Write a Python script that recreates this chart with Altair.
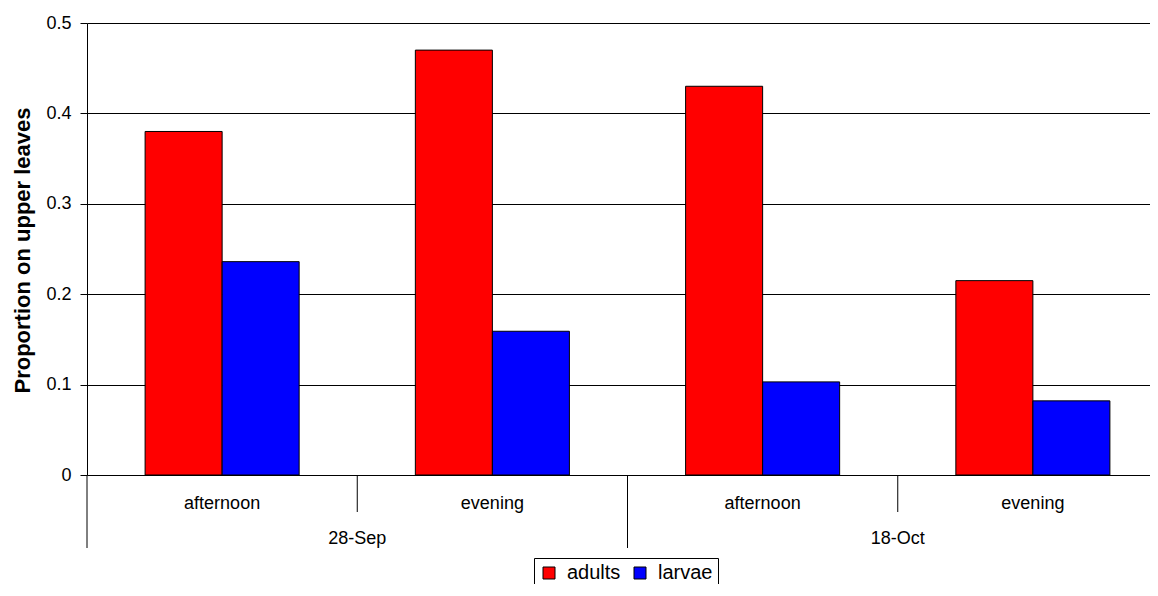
import altair as alt
import pandas as pd

# ---- data ----
dates = ["28-Sep", "28-Sep", "18-Oct", "18-Oct"]
times = ["afternoon", "evening", "afternoon", "evening"]
adults = [0.38, 0.47, 0.43, 0.215]
larvae = [0.236, 0.159, 0.103, 0.082]
series = ["adults", "larvae"]
date_order = ["28-Sep", "18-Oct"]
y_ticks = [0, 0.1, 0.2, 0.3, 0.4, 0.5]
colors = ["#FF0000", "#0000FF"]

FONT = "Liberation Sans"

groups = [f"{d}|{t}" for d, t in zip(dates, times)]
rows = []
for g, d, t, a, l in zip(groups, dates, times, adults, larvae):
    rows.append({"group": g, "date": d, "time": t, "stage": "adults", "value": a})
    rows.append({"group": g, "date": d, "time": t, "stage": "larvae", "value": l})
df = pd.DataFrame(rows)
date_df = pd.DataFrame({"date": date_order})
group_df = pd.DataFrame({"group": groups, "time": times})

PLOT_W = 1081  # full category range (extends past the window edge)

x_main = alt.X(
    "group:N",
    sort=groups,
    scale=alt.Scale(domain=groups, range=[0, PLOT_W], paddingInner=0.43, paddingOuter=0.215),
    axis=alt.Axis(
        title=None,
        labelExpr="split(datum.value, '|')[1]",
        labelAngle=0,
        ticks=True,
        tickSize=37,
        tickOpacity=0,
        domain=False,
        grid=False,
        labelPadding=-4,
        labelBaseline="alphabetic",
        labelFont=FONT,
        labelFontSize=18,
        labelColor="black",
    ),
)

y_enc = alt.Y(
    "value:Q",
    scale=alt.Scale(domain=[0, 0.5], nice=False, zero=True),
    axis=alt.Axis(
        title="Proportion on upper leaves",
        values=y_ticks,
        format="~g",
        grid=True,
        gridColor="black",
        gridWidth=1,
        domain=True,
        domainColor="black",
        ticks=True,
        tickSize=7,
        tickColor="black",
        labelPadding=9,
        labelFont=FONT,
        labelFontSize=18,
        labelColor="black",
        titleFont=FONT,
        titleFontSize=22,
        titleFontWeight="bold",
        titleColor="black",
        titleAngle=270,
        titleAlign="center",
        titleBaseline="alphabetic",
        titleX=-58,
        titleY=227,
    ),
)

bars = alt.Chart(df).mark_bar(stroke="black", strokeWidth=1).encode(
    x=x_main,
    xOffset=alt.XOffset("stage:N", sort=series,
                        scale=alt.Scale(domain=series, paddingInner=0, paddingOuter=0)),
    y=y_enc,
    color=alt.Color(
        "stage:N",
        sort=series,
        scale=alt.Scale(domain=series, range=colors),
        legend=alt.Legend(
            title=None,
            orient="none",
            legendX=447,
            legendY=535,
            direction="horizontal",
            symbolType="square",
            symbolSize=144,
            symbolStrokeColor="black",
            symbolStrokeWidth=1,
            labelFont=FONT,
            labelFontSize=20,
            labelColor="black",
            labelOffset=8,
            columnPadding=9,
            padding=5,
            strokeColor="black",
            fillColor="white",
            cornerRadius=0,
        ),
    ),
)

# separators between afternoon / evening inside each date
group_x_scale = alt.Scale(domain=groups, range=[0, PLOT_W], paddingInner=0, paddingOuter=0)
inner_seps = alt.Chart(group_df).transform_filter(
    "datum.time == 'evening'"
).mark_rule(color="black", strokeWidth=1).encode(
    x=alt.X("group:N", sort=groups, scale=group_x_scale, axis=None, bandPosition=0),
    y=alt.value(452),
    y2=alt.value(489),
)

date_x_scale = alt.Scale(domain=date_order, range=[0, PLOT_W], paddingInner=0, paddingOuter=0)

date_rules = alt.Chart(date_df).mark_rule(color="black", strokeWidth=1).encode(
    x=alt.X("date:N", sort=date_order, scale=date_x_scale, axis=None, bandPosition=0),
    y=alt.value(452),
    y2=alt.value(525),
)

date_text = alt.Chart(date_df).mark_text(
    font=FONT, fontSize=18, color="black", baseline="alphabetic", align="center"
).encode(
    x=alt.X("date:N", sort=date_order, scale=date_x_scale, axis=None, bandPosition=0.5),
    y=alt.value(521),
    text="date:N",
)

chart = (
    alt.layer(bars, inner_seps, date_rules, date_text)
    .resolve_scale(x="independent")
    .properties(
        width=1063,
        height=452,
        autosize=alt.AutoSizeParams(type="none"),
        padding={"left": 79, "top": 15, "right": 0, "bottom": 109},
        background="white",
    )
    .configure_view(stroke=None)
)

chart.save("out.html", embed_options={"renderer": "svg", "actions": False})
